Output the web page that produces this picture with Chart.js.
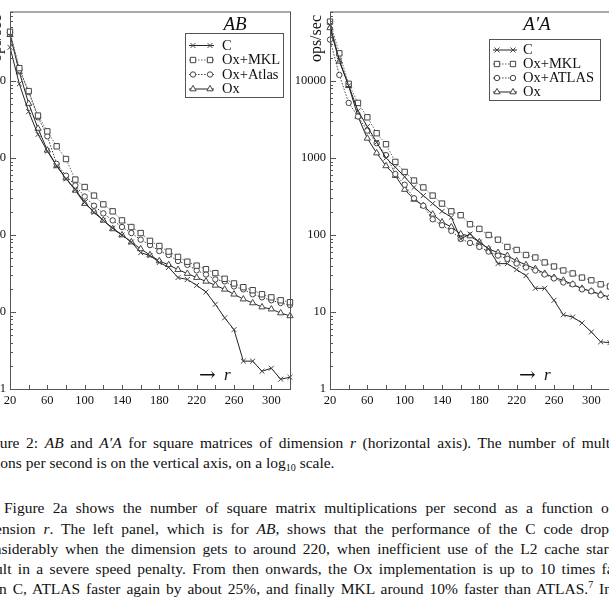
<!DOCTYPE html>
<html>
<head>
<meta charset="utf-8">
<script src="https://cdn.jsdelivr.net/npm/chart.js@4.4.1/dist/chart.umd.min.js"></script>
<style>
  body { margin: 0; width: 609px; height: 600px; overflow: hidden; background: #fff; position: relative; }
  .panel { position: absolute; top: 0; width: 335px; height: 420px; }
  .txt { position: absolute; font-family: 'Liberation Serif', 'Times New Roman', serif; font-size: 15.5px;
         line-height: 20px; color: #111; }
  .j { text-align: justify; text-align-last: justify; }
  .sup { font-size: 10px; position: relative; top: -6px; }
  .sub { font-size: 10px; position: relative; top: 3px; }
</style>
</head>
<body>
<div class="panel" style="left:-40px"><canvas id="chartAB" width="335" height="420"></canvas></div>
<div class="panel" style="left:280px"><canvas id="chartAtA" width="335" height="420"></canvas></div>

<div class="txt j" style="left:-21px; top:433px; width:657px">Figure 2: <i>AB</i> and <i>A′A</i> for square matrices of dimension <i>r</i> (horizontal axis). The number of multipli-</div>
<div class="txt" style="left:-22px; top:453px; white-space:nowrap">cations per second is on the vertical axis, on a log<span class="sub">10</span> scale.</div>

<div class="txt j" style="left:4px; top:498px; width:610px">Figure 2a shows the number of square matrix multiplications per second as a function of</div>
<div class="txt j" style="left:-29px; top:519px; width:644px">dimension <i>r</i>. The left panel, which is for <i>AB</i>, shows that the performance of the C code drops</div>
<div class="txt j" style="left:-21px; top:539px; width:640px">considerably when the dimension gets to around 220, when inefficient use of the L2 cache starts</div>
<div class="txt j" style="left:-23px; top:559px; width:659px">result in a severe speed penalty. From then onwards, the Ox implementation is up to 10 times faster</div>
<div class="txt j" style="left:-20px; top:579px; width:632px">than C, ATLAS faster again by about 25%, and finally MKL around 10% faster than ATLAS.<span class="sup">7</span> In</div>

<script>
// matrix dimension r
const rValues = [20, 30, 40, 50, 60, 70, 80, 90, 100, 110, 120, 130, 140, 150, 160, 170,
                 180, 190, 200, 210, 220, 230, 240, 250, 260, 270, 280, 290, 300, 310, 320];
const xTickLabels = [20, 60, 100, 140, 180, 220, 260, 300];
const yTickLabels = [1, 10, 100, 1000, 10000];

const namesAB = ['C', 'Ox+MKL', 'Ox+Atlas', 'Ox'];
const namesAtA = ['C', 'Ox+MKL', 'Ox+ATLAS', 'Ox'];

// AB: ops/sec
const abC = [27400, 9200, 4000, 2030, 1230, 790, 535, 390, 265, 196, 155, 123, 100, 81, 59, 54,
             44, 38, 28, 26.5, 22.2, 18.2, 12.6, 8.4, 5.9, 2.3, 2.3, 1.7, 1.86, 1.34, 1.42];
const abMKL = [43700, 14700, 7400, 3560, 2220, 1420, 970, 525, 420, 325, 250, 203, 155, 127, 106, 84,
               72, 61, 52, 45, 40, 36, 32, 27, 23.5, 21, 19.2, 17, 15.5, 14.2, 13.4];
const abAtlas = [42500, 13800, 7200, 3380, 1920, 840, 590, 440, 316, 240, 191, 155, 127, 106, 87, 74,
                 62, 55, 46, 41, 34.7, 30.7, 26.5, 25, 21.5, 19.7, 17, 15.5, 14.2, 13.1, 12.3];
const abOx = [40000, 13100, 5100, 2420, 1260, 790, 550, 380, 256, 203, 155, 120, 100, 81, 66, 55,
              46, 41, 35.5, 31.6, 28, 25, 22.2, 19.7, 17, 14.7, 13.1, 11.6, 10.9, 9.7, 8.9];

// A'A: ops/sec
const ataC = [53500, 18600, 8700, 4100, 2560, 1600, 1000, 760, 570, 415, 325, 256, 203, 170, 89, 103,
              81, 66, 42.5, 42.5, 35.5, 29.7, 20.3, 20.3, 14.2, 9.2, 8.6, 7.2, 5.5, 4.1, 4.0];
const ataMKL = [59000, 22900, 9200, 5200, 3380, 2100, 1510, 890, 660, 510, 415, 325, 256, 203, 181, 138,
                120, 100, 87, 70, 64, 55, 51, 44, 39, 34.6, 31.7, 28, 25.8, 22.9, 21.5];
const ataAtlas = [34500, 12000, 5200, 3460, 2270, 1560, 1090, 620, 450, 300, 240, 160, 134, 113, 89, 79,
                  70, 61, 54, 49, 42.6, 37.9, 34.6, 30.7, 27.3, 24.2, 22.9, 19.7, 18.6, 16.5, 15.5];
const ataOx = [49000, 18000, 8700, 3460, 1800, 1160, 790, 590, 390, 290, 240, 186, 147, 127, 103, 97,
               81, 66, 59, 54, 46, 41, 36.5, 31.6, 28, 25.8, 22.9, 20.2, 18.6, 17, 15.5];

const serif = "'Liberation Serif', 'DejaVu Serif', serif";
const lineStyles = [
    { pointStyle: 'crossRot', radius: 3.5, dash: [], line: '#222' },
    { pointStyle: 'rect', radius: 3.8, dash: [1.5, 1.5], line: '#666' },
    { pointStyle: 'circle', radius: 2.7, dash: [1.5, 1.5], line: '#444' },
    { pointStyle: 'triangle', radius: 3.6, dash: [], line: '#222' }
];

function makeDatasets(names, seriesList) {
    return seriesList.map((vals, i) => {
        const st = lineStyles[i];
        return {
            label: names[i],
            data: rValues.map((r, k) => ({ x: r, y: vals[k] })),
            borderColor: st.line,
            borderWidth: 1,
            borderDash: st.dash,
            pointStyle: st.pointStyle,
            pointRadius: st.radius,
            pointBorderColor: '#444',
            pointBackgroundColor: '#fff',
            pointBorderWidth: 1,
            tension: 0,
            clip: false
        };
    });
}

// frame, inward ticks, title, legend, arrow label
function makeDeco(cfg) {
    return {
        id: 'deco',
        afterDraw(chart) {
            const ctx = chart.ctx;
            const a = chart.chartArea;
            const xs = chart.scales.x, ys = chart.scales.y;
            ctx.save();
            ctx.strokeStyle = '#555';
            ctx.lineWidth = 1;
            ctx.setLineDash([]);
            ctx.strokeRect(a.left + 0.5, a.top + 0.5, a.right - a.left, a.bottom - a.top);

            // x ticks every 20
            ctx.beginPath();
            for (let v = 20; v <= 320; v += 20) {
                const px = Math.round(xs.getPixelForValue(v)) + 0.5;
                ctx.moveTo(px, a.bottom);
                ctx.lineTo(px, a.bottom - 4);
            }
            // y ticks, decades longer
            for (let e = 0; e <= 4; e++) {
                for (let m = 1; m <= 9; m++) {
                    const v = m * Math.pow(10, e);
                    if (v > ys.max) break;
                    const py = Math.round(ys.getPixelForValue(v)) + 0.5;
                    ctx.moveTo(a.left, py);
                    ctx.lineTo(a.left + (m === 1 ? 6 : 3), py);
                }
            }
            ctx.stroke();

            ctx.fillStyle = '#111';
            // title
            ctx.font = 'italic 19px ' + serif;
            ctx.textAlign = 'center';
            ctx.textBaseline = 'alphabetic';
            ctx.fillText(cfg.title, a.left + cfg.titleX, 30);

            // y label
            ctx.save();
            ctx.translate(a.left - 13, 15);
            ctx.rotate(-Math.PI / 2);
            ctx.font = '16px ' + serif;
            ctx.textAlign = 'right';
            ctx.textBaseline = 'middle';
            ctx.fillText('ops/sec', 0, 0);
            ctx.restore();

            // arrow r
            ctx.font = "20px 'DejaVu Serif', serif";
            ctx.textAlign = 'left';
            ctx.fillText('\u2192', a.left + 189, 381);
            ctx.font = 'italic 17px ' + serif;
            ctx.fillText('r', a.left + 214, 380);

            // legend
            const lg = cfg.legend;
            ctx.fillStyle = '#fff';
            ctx.fillRect(a.left + lg.x1, lg.y1, lg.x2 - lg.x1, lg.y2 - lg.y1);
            ctx.strokeStyle = '#555';
            ctx.strokeRect(a.left + lg.x1 + 0.5, lg.y1 + 0.5, lg.x2 - lg.x1, lg.y2 - lg.y1);
            chart.data.datasets.forEach((ds, i) => {
                const yRow = lg.rows[i];
                const st = lineStyles[i];
                ctx.strokeStyle = st.line;
                ctx.setLineDash(st.dash);
                ctx.beginPath();
                ctx.moveTo(a.left + lg.m1 - 4, yRow + 0.5);
                ctx.lineTo(a.left + lg.m2 + 4, yRow + 0.5);
                ctx.stroke();
                ctx.setLineDash([]);
                if (Chart.helpers && Chart.helpers.drawPoint) {
                    ctx.strokeStyle = '#444';
                    ctx.fillStyle = '#fff';
                    ctx.lineWidth = 1;
                    [lg.m1, lg.m2].forEach(mx => {
                        Chart.helpers.drawPoint(ctx, { pointStyle: st.pointStyle, radius: st.radius, borderWidth: 1, rotation: 0 },
                            a.left + mx, yRow + 0.5);
                    });
                }
                ctx.fillStyle = '#111';
                ctx.font = '14.5px ' + serif;
                ctx.textAlign = 'left';
                ctx.textBaseline = 'middle';
                ctx.fillText(ds.label, a.left + lg.textX, yRow + 1);
            });
            ctx.restore();
        }
    };
}

function makeChart(id, names, seriesList, deco) {
    return new Chart(document.getElementById(id), {
        type: 'line',
        data: { datasets: makeDatasets(names, seriesList) },
        options: {
            responsive: false,
            animation: false,
            devicePixelRatio: 1,
            layout: { padding: { top: 7, right: 5, left: 0, bottom: 0 } },
            plugins: { legend: { display: false }, tooltip: { enabled: false } },
            scales: {
                x: {
                    type: 'linear', min: 20, max: 320,
                    grid: { display: false, drawTicks: false },
                    border: { display: false },
                    afterBuildTicks: s => { s.ticks = xTickLabels.map(v => ({ value: v })); },
                    afterFit: s => { s.height = 31; },
                    ticks: { padding: 4, color: '#111', maxRotation: 0, autoSkip: false,
                             font: { family: serif, size: 12.5 }, callback: v => String(v) }
                },
                y: {
                    type: 'logarithmic', min: 1, max: 80000,
                    grid: { display: false, drawTicks: false },
                    border: { display: false },
                    afterBuildTicks: s => { s.ticks = yTickLabels.map(v => ({ value: v })); },
                    afterFit: s => { s.width = 50; },
                    ticks: { padding: 4, color: '#111', autoSkip: false,
                             font: { family: serif, size: 12.5 }, callback: v => String(v) }
                }
            }
        },
        plugins: [makeDeco(deco)]
    });
}

makeChart('chartAB', namesAB, [abC, abMKL, abAtlas, abOx], {
    title: 'AB', titleX: 225,
    legend: { x1: 175, x2: 273, y1: 33, y2: 97, rows: [45, 59.5, 74, 88.5], m1: 183, m2: 200, textX: 212 }
});
makeChart('chartAtA', namesAtA, [ataC, ataMKL, ataAtlas, ataOx], {
    title: 'A\u2032A', titleX: 207,
    legend: { x1: 159, x2: 270, y1: 39, y2: 100, rows: [49.5, 63.5, 77.5, 91.5], m1: 167, m2: 183, textX: 193 }
});
</script>
</body>
</html>
